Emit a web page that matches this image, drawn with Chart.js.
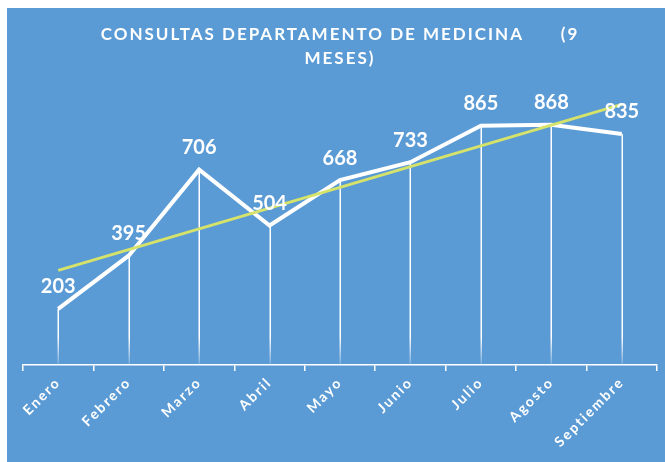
<!DOCTYPE html>
<html><head><meta charset="utf-8">
<script src="https://cdn.jsdelivr.net/npm/chart.js@4/dist/chart.umd.min.js"></script>
<style>html,body{margin:0;padding:0;background:#fff;overflow:hidden}#wrap{width:665px;height:462px;position:relative}</style>
</head><body><div id="wrap"><canvas id="c" width="665" height="462"></canvas></div>
<script>
const categories = ['Enero','Febrero','Marzo','Abril','Mayo','Junio','Julio','Agosto','Septiembre'];
const consultas = [203,395,706,504,668,733,865,868,835];
const tendencia = [342,null,null,null,null,null,null,null,942];
const titleLines = ['CONSULTAS DEPARTAMENTO DE MEDICINA      (9','MESES)'];
const yMin = 0, yMax = 1000;

const BLUE = '#5B9BD5';
const FONT = 'Lato';

const bgPlugin = {
  id: 'bg',
  beforeDraw(chart) {
    const ctx = chart.ctx;
    ctx.save();
    ctx.fillStyle = '#ffffff';
    ctx.fillRect(0, 0, chart.width, chart.height);
    ctx.fillStyle = BLUE;
    ctx.fillRect(7, 8, chart.width - 7, chart.height - 8);
    ctx.restore();
    ctx.letterSpacing = '2px';
  },
  afterDraw(chart) { chart.ctx.letterSpacing = '0px'; }
};

const dropPlugin = {
  id: 'drops',
  beforeDatasetsDraw(chart) {
    const ctx = chart.ctx;
    const meta = chart.getDatasetMeta(0);
    const bottom = chart.chartArea.bottom;
    ctx.save();
    meta.data.forEach(pt => {
      const g = ctx.createLinearGradient(0, pt.y, 0, bottom);
      const fadeStart = Math.max(0, Math.min(1, 1 - 28 / (bottom - pt.y)));
      g.addColorStop(0, 'rgba(255,255,255,1)');
      g.addColorStop(fadeStart, 'rgba(255,255,255,1)');
      g.addColorStop(1, 'rgba(255,255,255,0.15)');
      ctx.strokeStyle = g;
      ctx.lineWidth = 1.5;
      ctx.beginPath();
      ctx.moveTo(Math.round(pt.x) + 0.25, pt.y);
      ctx.lineTo(Math.round(pt.x) + 0.25, bottom);
      ctx.stroke();
    });
    ctx.restore();
  }
};

const labelPlugin = {
  id: 'vlabels',
  afterDatasetsDraw(chart) {
    const ctx = chart.ctx;
    const meta = chart.getDatasetMeta(0);
    ctx.save();
    ctx.letterSpacing = '0px';
    ctx.font = 'bold 20px ' + FONT;
    ctx.fillStyle = '#ffffff';
    ctx.textAlign = 'center';
    ctx.textBaseline = 'middle';
    meta.data.forEach((pt, i) => {
      ctx.fillText(String(consultas[i]), pt.x, pt.y - 22);
    });
    ctx.restore();
  }
};

new Chart(document.getElementById('c'), {
  type: 'line',
  data: {
    labels: categories,
    datasets: [
      {
        data: consultas,
        borderColor: '#ffffff',
        borderWidth: 4,
        pointRadius: 0,
        tension: 0,
        borderJoinStyle: 'miter',
        order: 1
      },
      {
        data: tendencia,
        borderColor: '#D5E36B',
        borderWidth: 3,
        pointRadius: 0,
        tension: 0,
        spanGaps: true,
        order: 0
      }
    ]
  },
  options: {
    responsive: false,
    animation: false,
    devicePixelRatio: 1,
    layout: { padding: { left: 23, right: 8, top: 8, bottom: 0 } },
    plugins: {
      legend: { display: false },
      tooltip: { enabled: false },
      title: {
        display: true,
        text: titleLines,
        color: '#ffffff',
        font: { family: FONT, size: 17, weight: 'bold', lineHeight: 1.45 },
        padding: { top: 14, bottom: 17 }
      }
    },
    scales: {
      x: {
        type: 'category',
        offset: true,
        afterFit(s) { s.height = 97; },
        grid: { offset: true, drawOnChartArea: false, drawTicks: true, tickLength: 6, color: '#ffffff', lineWidth: 1.5 },
        border: { display: true, color: '#ffffff', width: 1.5 },
        ticks: { color: '#ffffff', font: { family: FONT, size: 14, weight: 'bold' }, minRotation: 45, maxRotation: 45, autoSkip: false, padding: 3 }
      },
      y: { display: false, min: yMin, max: yMax }
    }
  },
  plugins: [bgPlugin, dropPlugin, labelPlugin]
});
</script></body></html>
